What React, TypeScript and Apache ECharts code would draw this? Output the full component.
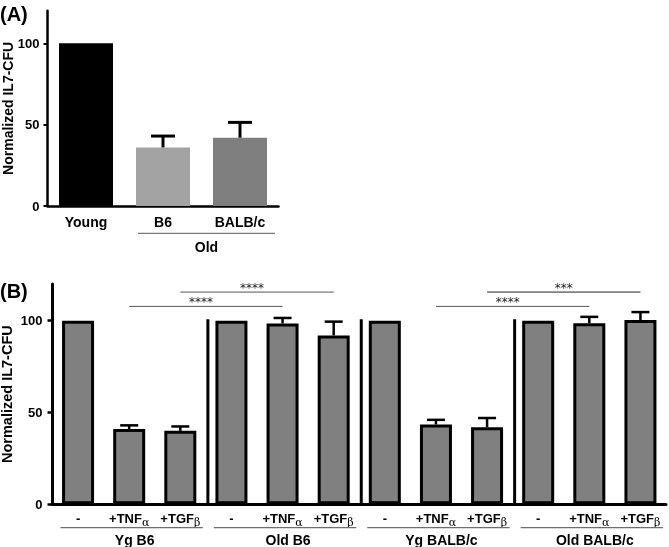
import React, { useEffect, useRef } from 'react';
import * as echarts from 'echarts';

// ---------- Panel A data ----------
const catsA = ['Young', 'B6', 'BALB/c'];
const valsA = [100, 36, 42];
const semA = [0, 7, 9.4];
const colorsA = ['#000000', '#a3a3a3', '#7f7f7f'];
const groupALabel = 'Old';
const groupAFrom = 1;
const groupATo = 2;

// ---------- Panel B data ----------
const catsB = ['-', '+TNFα', '+TGFβ', '-', '+TNFα', '+TGFβ', '-', '+TNFα', '+TGFβ', '-', '+TNFα', '+TGFβ'];
const valsB = [100, 41, 40, 100, 98.5, 92, 100, 43.5, 42, 100, 98.6, 100.4];
const semB = [0, 2, 2.4, 0, 3, 7.5, 0, 2.5, 5, 0, 3.5, 4.3];
const groupsB = ['Yg B6', 'Old B6', 'Yg BALB/c', 'Old BALB/c'];
const separatorsB = [3, 6, 9];
const sigFrom = [1, 2, 7, 8];
const sigTo = [4, 5, 10, 11];
const sigLevel = [107.8, 115.6, 107.8, 115.6];
const sigText = ['****', '****', '****', '***'];

const yTicks = [0, 50, 100];
const yMax = 120;
const yTitle = 'Normalized IL7-CFU';

const FONT = '"Liberation Sans", Arial, sans-serif';

export default function App() {
  const ref = useRef<HTMLDivElement>(null);
  useEffect(() => {
    document.body.style.margin = '0';
    const chart = echarts.init(ref.current!, undefined, { renderer: 'svg' });

    const errRender = (capW: number, lw: number) => (params: any, api: any) => {
      const i = api.value(0);
      const v = api.value(1);
      const e = api.value(2);
      const p1 = api.coord([i, v]);
      const p2 = api.coord([i, e]);
      return {
        type: 'group',
        children: [
          { type: 'line', shape: { x1: p1[0], y1: p1[1], x2: p2[0], y2: p2[1] }, style: { stroke: '#000', lineWidth: lw } },
          { type: 'line', shape: { x1: p2[0] - capW / 2, y1: p2[1], x2: p2[0] + capW / 2, y2: p2[1] }, style: { stroke: '#000', lineWidth: lw } },
        ],
      };
    };

    const option: any = {
      animation: false,
      textStyle: { fontFamily: FONT },
      grid: [
        { left: 47.5, top: 10.8, width: 231, height: 195.2, outerBoundsMode: 'none' },
        { left: 52.5, top: 284, width: 613.5, height: 220.3, outerBoundsMode: 'none' },
      ],
      xAxis: [
        {
          type: 'category', gridIndex: 0, data: catsA,
          axisLine: { lineStyle: { color: '#000', width: 2.5 } },
          axisTick: { alignWithLabel: true, length: 4, lineStyle: { color: '#000', width: 2 } },
          axisLabel: { color: '#000', fontWeight: 'bold', fontSize: 14, margin: 9, fontFamily: FONT },
        },
        {
          type: 'category', gridIndex: 1, data: catsB,
          axisLine: { lineStyle: { color: '#000', width: 3 } },
          axisTick: { alignWithLabel: true, length: 4, lineStyle: { color: '#000', width: 2.5 } },
          axisLabel: {
            interval: 0, margin: 8,
            formatter: (v: string) => v.length > 1 ? `{n|${v.slice(0, -1)}}{s|${v.slice(-1)}}` : `{n|${v}}`,
            rich: {
              n: { fontSize: 13, fontWeight: 'bold', color: '#000', fontFamily: FONT, verticalAlign: 'top', lineHeight: 15 },
              s: { fontSize: 11, color: '#000', fontFamily: '"DejaVu Serif", serif', verticalAlign: 'top', padding: [5, 0, 0, 0], lineHeight: 12 },
            },
          },
        },
      ],
      yAxis: [
        {
          type: 'value', gridIndex: 0, min: 0, max: yMax, interval: 50,
          axisLine: { show: true, lineStyle: { color: '#000', width: 2.5 } },
          axisTick: { show: true, length: 4, lineStyle: { color: '#000', width: 2 }, customValues: yTicks },
          axisLabel: { color: '#000', fontWeight: 'bold', fontSize: 13, margin: 8, customValues: yTicks, fontFamily: FONT },
          splitLine: { show: false },
          name: yTitle, nameLocation: 'middle', nameGap: 33, nameMoveOverlap: false,
          nameTextStyle: { color: '#000', fontWeight: 'bold', fontSize: 14, fontFamily: FONT },
        },
        {
          type: 'value', gridIndex: 1, min: 0, max: yMax, interval: 50,
          axisLine: { show: true, lineStyle: { color: '#000', width: 3 } },
          axisTick: { show: true, length: 5, lineStyle: { color: '#000', width: 2.5 }, customValues: yTicks },
          axisLabel: { color: '#000', fontWeight: 'bold', fontSize: 13, margin: 10, customValues: yTicks, fontFamily: FONT },
          splitLine: { show: false },
          name: yTitle, nameLocation: 'middle', nameGap: 38.5, nameMoveOverlap: false,
          nameTextStyle: { color: '#000', fontWeight: 'bold', fontSize: 14.5, fontFamily: FONT },
        },
      ],
      graphic: [
        { type: 'text', left: 0, top: 4, style: { text: '(A)', font: `bold 20px ${FONT}`, fill: '#000' } },
        { type: 'text', left: 0, top: 281, style: { text: '(B)', font: `bold 20px ${FONT}`, fill: '#000' } },
      ],
      series: [
        {
          type: 'bar', xAxisIndex: 0, yAxisIndex: 0, barWidth: 54,
          data: valsA.map((v, i) => ({ value: v, itemStyle: { color: colorsA[i] } })),
        },
        {
          type: 'custom', xAxisIndex: 0, yAxisIndex: 0, z: 3,
          data: valsA.map((v, i) => [i, v, v + semA[i]]).filter((d, i) => semA[i] > 0),
          renderItem: errRender(24, 3),
        },
        {
          type: 'custom', xAxisIndex: 0, yAxisIndex: 0, z: 3,
          data: [[groupAFrom, 0, groupATo]],
          renderItem: (params: any, api: any) => {
            const bw = api.size([1, 0])[0];
            const a = api.coord([api.value(0), 0]);
            const b = api.coord([api.value(2), 0]);
            const left = a[0] - bw / 2 + 13.5;
            const right = b[0] + bw / 2 - 3.5;
            const y = a[1];
            return {
              type: 'group',
              children: [
                { type: 'line', shape: { x1: left, y1: y + 27.3, x2: right, y2: y + 27.3 }, style: { stroke: '#555', lineWidth: 1 } },
                { type: 'text', x: (left + right) / 2, y: y + 41, style: { text: groupALabel, font: `bold 14px ${FONT}`, fill: '#000', align: 'center', verticalAlign: 'middle' } },
              ],
            };
          },
        },
        {
          type: 'bar', xAxisIndex: 1, yAxisIndex: 1, barWidth: 32,
          itemStyle: { color: '#808080', borderColor: '#000', borderWidth: 3 },
          data: valsB,
        },
        {
          type: 'custom', xAxisIndex: 1, yAxisIndex: 1, z: 3,
          data: valsB.map((v, i) => [i, v, v + semB[i]]).filter((d, i) => semB[i] > 0),
          renderItem: errRender(18, 2.5),
        },
        {
          type: 'custom', xAxisIndex: 1, yAxisIndex: 1, z: 3,
          data: separatorsB.map((b) => [b, 0]),
          renderItem: (params: any, api: any) => {
            const bw = api.size([1, 0])[0];
            const c0 = api.coord([api.value(0), 0]);
            const c1 = api.coord([api.value(0), 100.8]);
            const x = c0[0] - bw / 2 + 2;
            return { type: 'line', shape: { x1: x, y1: c0[1], x2: x, y2: c1[1] }, style: { stroke: '#000', lineWidth: 3 } };
          },
        },
        {
          type: 'custom', xAxisIndex: 1, yAxisIndex: 1, z: 3,
          data: sigFrom.map((f, k) => [f, sigLevel[k], sigTo[k]]),
          renderItem: (params: any, api: any) => {
            const k = params.dataIndex;
            const p1 = api.coord([api.value(0), api.value(1)]);
            const p2 = api.coord([api.value(2), api.value(1)]);
            const txt = sigText[k];
            const mid = (p1[0] + p2[0]) / 2 - (txt.length === 4 ? 5 : 0);
            return {
              type: 'group',
              children: [
                { type: 'line', shape: { x1: p1[0], y1: p1[1], x2: p2[0], y2: p2[1] }, style: { stroke: k === 3 ? '#222' : '#555', lineWidth: 1 } },
                { type: 'text', x: mid, y: p1[1] - 4, style: { text: txt, font: '12px "DejaVu Sans", sans-serif', fill: '#222', align: 'center', verticalAlign: 'middle' } },
              ],
            };
          },
        },
        {
          type: 'custom', xAxisIndex: 1, yAxisIndex: 1, z: 3,
          data: groupsB.map((_, g) => [g * 3, 0, g * 3 + 2]),
          renderItem: (params: any, api: any) => {
            const g = params.dataIndex;
            const bw = api.size([1, 0])[0];
            const a = api.coord([api.value(0), 0]);
            const b = api.coord([api.value(2), 0]);
            const left = a[0] - bw / 2 + 8;
            const right = b[0] + bw / 2 - 3;
            const y = a[1];
            return {
              type: 'group',
              children: [
                { type: 'line', shape: { x1: left, y1: y + 23.4, x2: right, y2: y + 23.4 }, style: { stroke: '#6e6e6e', lineWidth: 1.2 } },
                { type: 'text', x: (left + right) / 2 + 3, y: y + 36, style: { text: groupsB[g], font: `bold 14px ${FONT}`, fill: '#000', align: 'center', verticalAlign: 'middle' } },
              ],
            };
          },
        },
      ],
    };
    chart.setOption(option);
    return () => chart.dispose();
  }, []);
  return <div ref={ref} style={{ position: 'fixed', left: 0, top: 0, width: 669, height: 547 }} />;
}
